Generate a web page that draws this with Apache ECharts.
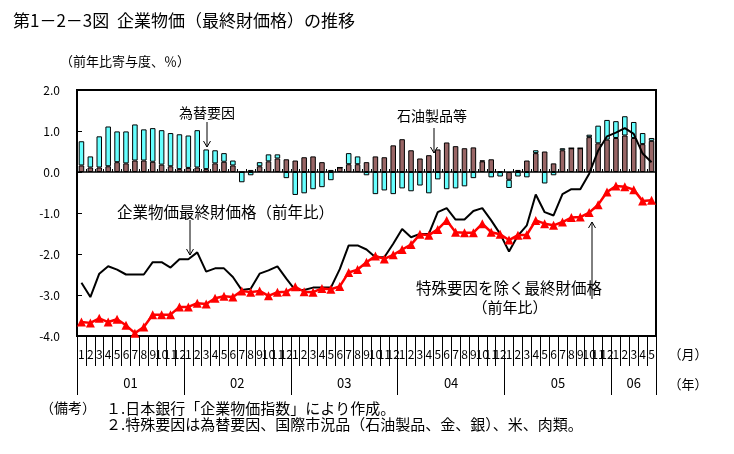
<!DOCTYPE html>
<html>
<head>
<meta charset="utf-8">
<script src="https://cdn.jsdelivr.net/npm/echarts@6/dist/echarts.min.js"></script>
<style>
html,body{margin:0;padding:0;background:#fff;}
#c{width:734px;height:454px;}
</style>
</head>
<body>
<div id="c"></div>
<script>
// ---- tick labels ----
var monthLabels = ['1','2','3','4','5','6','7','8','9','10','11','12',
  '1','2','3','4','5','6','7','8','9','10','11','12',
  '1','2','3','4','5','6','7','8','9','10','11','12',
  '1','2','3','4','5','6','7','8','9','10','11','12',
  '1','2','3','4','5','6','7','8','9','10','11','12',
  '1','2','3','4','5'];
var yearLabels = ['01','02','03','04','05','06'];
var yearBoundaries = [0, 12, 24, 36, 48, 60, 65];
var yearLabelPos = [6, 18, 30, 42, 54, 62.5];

// ---- series values ----
// 石油製品等 (寄与度)
var oilValues = [0.16,0.11,0.11,0.14,0.24,0.21,0.28,0.28,0.25,0.18,0.14,0.07,
  0.10,0.11,0.07,0.21,0.25,0.16,0.00,0.05,0.14,0.26,0.33,0.31,
  0.28,0.36,0.38,0.24,0.05,0.11,0.19,0.19,0.24,0.38,0.36,0.65,
  0.80,0.53,0.33,0.41,0.55,0.72,0.63,0.58,0.60,0.26,0.31,0.02,
  -0.19,0.05,0.28,0.46,0.50,0.21,0.53,0.58,0.58,0.85,0.70,0.79,
  0.83,0.89,0.83,0.68,0.76];
// 為替要因 (寄与度)
var fxValues = [0.59,0.27,0.76,0.97,0.75,0.78,0.88,0.76,0.82,0.84,0.81,0.85,
  0.79,0.91,0.48,0.32,0.21,0.12,-0.25,-0.08,0.10,0.17,0.10,-0.15,
  -0.56,-0.52,-0.42,-0.37,-0.20,0.00,0.27,0.19,-0.08,-0.54,-0.45,-0.54,
  -0.40,-0.47,-0.33,-0.52,-0.18,-0.42,-0.40,-0.35,-0.15,0.02,-0.13,-0.11,
  -0.20,-0.11,-0.13,0.07,-0.28,-0.08,0.05,0.00,0.00,0.06,0.43,0.48,
  0.41,0.47,0.39,0.27,0.07];
// 企業物価最終財価格（前年比）
var finalGoods = [-2.70,-3.05,-2.48,-2.30,-2.38,-2.50,-2.50,-2.50,-2.20,-2.20,-2.33,-2.13,
  -2.13,-1.96,-2.43,-2.35,-2.35,-2.56,-2.88,-2.85,-2.48,-2.40,-2.30,-2.60,
  -2.88,-2.88,-2.82,-2.82,-2.82,-2.37,-1.79,-1.79,-1.89,-2.08,-2.08,-1.75,
  -1.39,-1.59,-1.51,-1.51,-0.98,-0.88,-1.16,-1.16,-0.95,-0.88,-1.18,-1.51,
  -1.94,-1.55,-1.30,-0.55,-0.98,-1.06,-0.54,-0.42,-0.42,-0.04,0.52,0.87,
  0.96,1.07,0.93,0.45,0.24];
// 特殊要因を除く最終財価格（前年比）
var exSpecial = [-3.66,-3.68,-3.57,-3.66,-3.59,-3.74,-3.93,-3.78,-3.48,-3.48,-3.48,-3.29,
  -3.29,-3.20,-3.22,-3.08,-3.03,-3.05,-2.90,-2.93,-2.90,-3.02,-2.93,-2.92,
  -2.80,-2.92,-2.93,-2.84,-2.86,-2.79,-2.45,-2.38,-2.20,-2.05,-2.12,-2.02,
  -1.89,-1.77,-1.52,-1.54,-1.40,-1.18,-1.47,-1.48,-1.48,-1.26,-1.47,-1.52,
  -1.66,-1.54,-1.53,-1.18,-1.26,-1.30,-1.22,-1.11,-1.10,-0.99,-0.80,-0.49,
  -0.34,-0.36,-0.43,-0.71,-0.69];

var FONT = '"Noto Sans CJK JP", "Noto Sans", sans-serif';

function arrow(x1, y1, x2, y2) {
  var dx = x2 - x1, dy = y2 - y1, len = Math.sqrt(dx*dx + dy*dy);
  var ux = dx/len, uy = dy/len, h = 6, w = 3.5;
  return [
    {type:'line', shape:{x1:x1,y1:y1,x2:x2,y2:y2}, style:{stroke:'#000', lineWidth:1}, z:100},
    {type:'polyline', shape:{points:[[x2 - ux*h - uy*w, y2 - uy*h + ux*w],[x2,y2],[x2 - ux*h + uy*w, y2 - uy*h - ux*w]]},
      style:{stroke:'#000', lineWidth:1, fill:null}, z:100}
  ];
}

var chart = echarts.init(document.getElementById('c'), null, {renderer:'canvas'});

var graphics = [
  {type:'text', left:60, top:55, style:{text:'（前年比寄与度、％）', font:'13px ' + FONT, fill:'#000'}},
  {type:'text', x:207, y:113, style:{text:'為替要因', font:'14px ' + FONT, fill:'#000', align:'center', verticalAlign:'middle'}, z:100},
  {type:'text', x:432, y:116, style:{text:'石油製品等', font:'14px ' + FONT, fill:'#000', align:'center', verticalAlign:'middle'}, z:100},
  {type:'text', x:117, y:212, style:{text:'企業物価最終財価格（前年比）', font:'15.5px ' + FONT, fill:'#000', align:'left', verticalAlign:'middle'}, z:100},
  {type:'text', x:509, y:288, style:{text:'特殊要因を除く最終財価格', font:'15.5px ' + FONT, fill:'#000', align:'center', verticalAlign:'middle'}, z:100},
  {type:'text', x:510, y:307, style:{text:'（前年比）', font:'15px ' + FONT, fill:'#000', align:'center', verticalAlign:'middle'}, z:100},
  {type:'text', x:688, y:354, style:{text:'（月）', font:'13px ' + FONT, fill:'#000', align:'center', verticalAlign:'middle'}},
  {type:'text', x:688, y:384, style:{text:'（年）', font:'13px ' + FONT, fill:'#000', align:'center', verticalAlign:'middle'}},
  {type:'text', x:40, y:408, style:{text:'（備考）', font:'14px ' + FONT, fill:'#000', verticalAlign:'middle'}},
  {type:'text', x:106, y:408, style:{text:'１.日本銀行「企業物価指数」により作成。', font:'15px ' + FONT, fill:'#000', verticalAlign:'middle'}},
  {type:'text', x:106, y:424, style:{text:'２.特殊要因は為替要因、国際市況品（石油製品、金、銀）、米、肉類。', font:'15px ' + FONT, fill:'#000', verticalAlign:'middle'}}
];
graphics = graphics.concat(arrow(207, 122, 207, 147));
graphics = graphics.concat(arrow(434, 128, 434, 153));
graphics = graphics.concat(arrow(190, 220, 190, 255));
graphics = graphics.concat(arrow(592, 299, 592, 222));

var option = {
  animation: false,
  backgroundColor: '#fff',
  textStyle: {fontFamily: FONT, color:'#000'},
  title: {
    text: '第1－2－3図  企業物価（最終財価格）の推移',
    left: 8, top: 7,
    textStyle: {fontFamily: FONT, fontSize: 17, fontWeight: 'normal', color:'#000'}
  },
  grid: {left: 77, right: 78, top: 90, bottom: 118, show: true, borderColor:'#000', borderWidth: 2, backgroundColor:'rgba(0,0,0,0)'},
  xAxis: [
    {
      type:'category', data: monthLabels, position:'bottom', boundaryGap:true,
      axisLine:{show:true, onZero:false, lineStyle:{color:'#000', width:2}},
      axisTick:{show:true, interval:0, length:30, lineStyle:{color:'#000', width:1}},
      axisLabel:{interval:0, margin:12, fontSize:12, color:'#000', fontFamily:FONT, hideOverlap:false},
      splitLine:{show:false}
    },
    {
      type:'value', min:0, max:65, position:'bottom',
      axisLine:{show:false, onZero:false},
      axisTick:{show:true, customValues: yearBoundaries, length:59, lineStyle:{color:'#000', width:1}},
      axisLabel:{show:true, customValues: yearLabelPos, margin:41, fontSize:13, color:'#000', fontFamily:FONT,
        formatter:function(v){ return yearLabels[Math.floor(v/12)]; }},
      splitLine:{show:false}
    },
    {
      type:'category', data: monthLabels, position:'bottom', boundaryGap:true,
      axisLine:{show:true, onZero:true, onZeroAxisIndex:0, lineStyle:{color:'#000', width:1.5}},
      axisTick:{show:true, inside:true, interval:0, length:3, lineStyle:{color:'#000', width:1}},
      axisLabel:{show:false},
      splitLine:{show:false}
    }
  ],
  yAxis: [{
    type:'value', min:-4, max:2, interval:1,
    axisLine:{show:true, lineStyle:{color:'#000', width:2}},
    axisTick:{show:true, inside:true, length:5, lineStyle:{color:'#000'}},
    axisLabel:{fontSize:12, color:'#000', fontFamily:FONT, margin:17, formatter:function(v){return v.toFixed(1);}},
    splitLine:{show:false}
  }],
  graphic: graphics,
  series: [
    {
      name:'石油製品等', type:'bar', stack:'c', xAxisIndex:0, yAxisIndex:0, data: oilValues,
      barWidth:'62%', itemStyle:{color:'#996666', borderColor:'#000', borderWidth:1}, z:2
    },
    {
      name:'為替要因', type:'bar', stack:'c', xAxisIndex:0, yAxisIndex:0, data: fxValues,
      barWidth:'62%', itemStyle:{color:'#66ffff', borderColor:'#000', borderWidth:1}, z:2
    },
    {
      name:'企業物価最終財価格（前年比）', type:'line', xAxisIndex:0, yAxisIndex:0, data: finalGoods,
      symbol:'none', lineStyle:{color:'#000', width:2}, z:5
    },
    {
      name:'特殊要因を除く最終財価格（前年比）', type:'line', xAxisIndex:0, yAxisIndex:0, data: exSpecial,
      symbol:'triangle', symbolSize:9, itemStyle:{color:'#ff0000'}, lineStyle:{color:'#ff0000', width:2.5}, z:6
    }
  ]
};
chart.setOption(option);
</script>
</body>
</html>
